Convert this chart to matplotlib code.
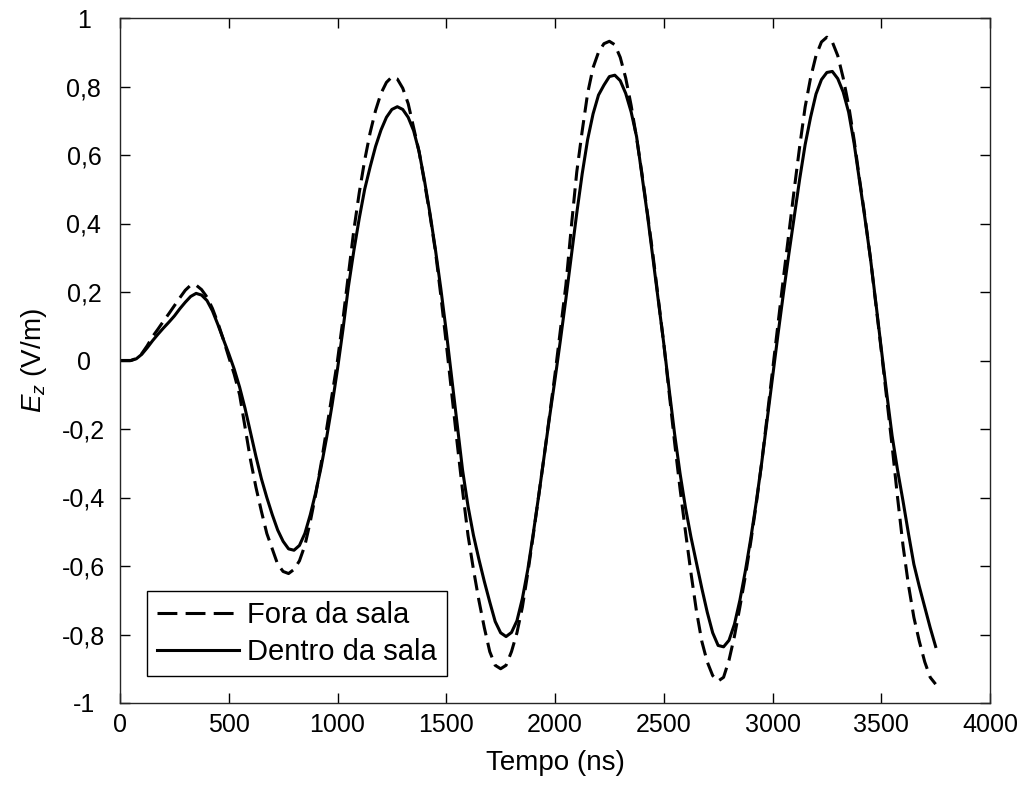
import numpy as np
import matplotlib
matplotlib.use("Agg")
import matplotlib.pyplot as plt
from matplotlib.lines import Line2D

plt.rcParams["font.family"] = ["Liberation Sans", "DejaVu Sans"]
plt.rcParams["mathtext.fontset"] = "custom"
plt.rcParams["mathtext.rm"] = "Liberation Sans"
plt.rcParams["mathtext.it"] = "Liberation Sans:italic"

# tempo (ns), passo de 25 ns
t = np.arange(0, 3751, 25)

# Fora da sala (tracejado)
fora = [0.0, 0.0, 0.0, 0.006, 0.02, 0.043, 0.07, 0.092, 0.115, 0.137,
        0.16, 0.183, 0.205, 0.22, 0.22, 0.207, 0.185, 0.152, 0.11, 0.062,
        0.01, -0.04, -0.10, -0.195, -0.29, -0.37, -0.44, -0.505, -0.55, -0.595,
        -0.616, -0.622, -0.61, -0.585, -0.54, -0.47, -0.39, -0.30, -0.20, -0.10,
        0.0, 0.12, 0.25, 0.38, 0.49, 0.585, 0.665, 0.73, 0.78, 0.812,
        0.828, 0.822, 0.795, 0.75, 0.68, 0.61, 0.52, 0.425, 0.32, 0.19,
        0.05, -0.095, -0.24, -0.38, -0.51, -0.61, -0.70, -0.78, -0.85, -0.89,
        -0.90, -0.89, -0.85, -0.795, -0.72, -0.62, -0.51, -0.395, -0.28, -0.16,
        -0.04, 0.09, 0.22, 0.39, 0.55, 0.67, 0.78, 0.855, 0.90, 0.925,
        0.932, 0.922, 0.885, 0.825, 0.745, 0.65, 0.545, 0.43, 0.31, 0.18,
        0.05, -0.095, -0.24, -0.375, -0.50, -0.62, -0.73, -0.82, -0.88, -0.92,
        -0.936, -0.925, -0.875, -0.805, -0.72, -0.63, -0.53, -0.42, -0.30, -0.165,
        -0.03, 0.105, 0.24, 0.37, 0.50, 0.625, 0.74, 0.825, 0.89, 0.93,
        0.944, 0.93, 0.89, 0.825, 0.745, 0.645, 0.53, 0.42, 0.30, 0.165,
        0.03, -0.11, -0.25, -0.40, -0.54, -0.655, -0.75, -0.82, -0.88, -0.925,
        -0.945]

# Dentro da sala (continuo)
dentro = [0.0, 0.0, 0.0, 0.005, 0.018, 0.037, 0.058, 0.077, 0.095, 0.112,
          0.13, 0.151, 0.17, 0.187, 0.196, 0.191, 0.175, 0.145, 0.105, 0.062,
          0.02, -0.025, -0.078, -0.14, -0.21, -0.28, -0.345, -0.40, -0.45, -0.495,
          -0.528, -0.55, -0.554, -0.54, -0.505, -0.45, -0.385, -0.31, -0.225, -0.13,
          -0.025, 0.09, 0.215, 0.32, 0.415, 0.50, 0.565, 0.625, 0.673, 0.71,
          0.733, 0.741, 0.733, 0.71, 0.671, 0.61, 0.525, 0.43, 0.325, 0.21,
          0.085, -0.05, -0.185, -0.32, -0.425, -0.51, -0.58, -0.645, -0.705, -0.762,
          -0.795, -0.806, -0.794, -0.76, -0.695, -0.61, -0.505, -0.395, -0.28, -0.165,
          -0.055, 0.06, 0.18, 0.305, 0.43, 0.545, 0.645, 0.72, 0.775, 0.804,
          0.829, 0.833, 0.817, 0.78, 0.726, 0.654, 0.54, 0.425, 0.30, 0.175,
          0.05, -0.085, -0.215, -0.33, -0.43, -0.515, -0.59, -0.665, -0.735, -0.795,
          -0.832, -0.836, -0.817, -0.77, -0.70, -0.615, -0.52, -0.415, -0.30, -0.175,
          -0.05, 0.075, 0.195, 0.31, 0.42, 0.53, 0.63, 0.71, 0.778, 0.82,
          0.841, 0.844, 0.823, 0.784, 0.725, 0.635, 0.525, 0.415, 0.30, 0.17,
          0.035, -0.095, -0.22, -0.32, -0.41, -0.505, -0.595, -0.66, -0.72, -0.78,
          -0.835]

xticks = [0, 500, 1000, 1500, 2000, 2500, 3000, 3500, 4000]
yticks = [-1, -0.8, -0.6, -0.4, -0.2, 0, 0.2, 0.4, 0.6, 0.8, 1]
ylabels = ["-1", "-0,8", "-0,6", "-0,4", "-0,2", "0", "0,2", "0,4", "0,6", "0,8", "1"]

fig = plt.figure(figsize=(10.22, 7.85), dpi=100)
ax = fig.add_axes([120 / 1022, 1 - 703 / 785, 870 / 1022, 685 / 785])

ax.plot(t, fora, color="black", linestyle=(0, (5, 2.5)), linewidth=2.2)
ax.plot(t, dentro, color="black", linestyle="-", linewidth=2.2)

ax.set_xlim(0, 4000)
ax.set_ylim(-1, 1)
ax.set_xticks(xticks)
ax.set_yticks(yticks)
ax.set_yticklabels(ylabels)

ax.tick_params(direction="in", length=7, width=1.0, top=True, right=True,
               labelsize=18, colors="black")
ax.tick_params(axis="x", pad=7)
ax.tick_params(axis="y", pad=26)
for lab in ax.get_yticklabels():
    lab.set_horizontalalignment("center")
for sp in ax.spines.values():
    sp.set_linewidth(1.0)
    sp.set_color("#262626")

ax.set_xlabel("Tempo (ns)", fontsize=20, va="top")
ax.xaxis.set_label_coords(0.5, -0.068)
ax.set_ylabel(r"$E_z$ (V/m)", fontsize=20)
ax.yaxis.set_label_coords(-0.082, 0.5)

handles = [Line2D([], [], color="black", linewidth=2.2, linestyle=(0, (6.5, 2.7))),
           Line2D([], [], color="black", linewidth=2.2, linestyle="-")]
leg = ax.legend(handles, ["Fora da sala", "Dentro da sala"], loc="lower left",
                bbox_to_anchor=(0.031, 0.039), fontsize=21,
                handlelength=2.8, handletextpad=0.27, borderpad=0.35,
                labelspacing=0.3, borderaxespad=0, fancybox=False,
                edgecolor="black", framealpha=1)
leg.get_frame().set_linewidth(1.0)

fig.savefig("out.png", dpi=100)
